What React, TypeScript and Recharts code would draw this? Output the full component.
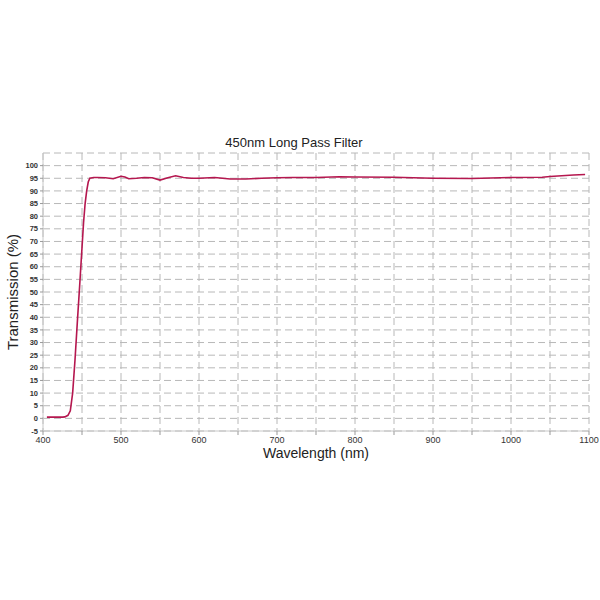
import { LineChart, Line, XAxis, YAxis, CartesianGrid } from 'recharts';

const wavelengths = [
  405, 410, 415, 420, 425, 428, 432, 435, 438, 441, 444, 447, 450, 452, 454, 456, 458, 460,
  465, 470, 480, 490, 500, 505, 510, 520, 530, 540, 550, 560, 570, 580, 590, 600, 620, 640,
  660, 680, 700, 720, 750, 780, 800, 850, 900, 950, 1000, 1040, 1050, 1060, 1070, 1080, 1095,
];
const transmission = [
  0.5, 0.5, 0.5, 0.5, 0.5, 0.6, 1.2, 3, 10, 23, 38, 52.5, 67.5, 77.5, 85, 90, 93.5, 95,
  95.3, 95.3, 95.2, 94.8, 95.8, 95.5, 94.8, 95.0, 95.3, 95.2, 94.3, 95.2, 96.0, 95.3, 95.0, 95.0, 95.3, 94.7,
  94.7, 95.0, 95.2, 95.3, 95.3, 95.6, 95.5, 95.4, 95.0, 94.9, 95.3, 95.4, 95.7, 95.9, 96.1, 96.3, 96.5,
];
const xTicks = [400, 450, 500, 550, 600, 650, 700, 750, 800, 850, 900, 950, 1000, 1050, 1100];
const yTicks = [-5, 0, 5, 10, 15, 20, 25, 30, 35, 40, 45, 50, 55, 60, 65, 70, 75, 80, 85, 90, 95, 100];

const data = wavelengths.map((w, i) => ({ w, t: transmission[i] }));

const font = 'Arial, "Liberation Sans", sans-serif';

export default function App() {
  return (
    <div style={{ position: 'absolute', left: 0, top: 0, width: 600, height: 600, background: '#fff', fontFamily: font }}>
      <div style={{ position: 'absolute', left: 0, top: 135, width: 588, textAlign: 'center', fontSize: 13, lineHeight: '15px', color: '#222' }}>
        450nm Long Pass Filter
      </div>
      <div
        style={{
          position: 'absolute',
          left: 12,
          top: 292,
          transform: 'translate(-50%, -50%) rotate(-90deg)',
          whiteSpace: 'nowrap',
          fontSize: 15,
          lineHeight: '17px',
          color: '#222',
        }}
      >
        Transmission (%)
      </div>
      <div style={{ position: 'absolute', left: 43, top: 446, width: 546, textAlign: 'center', fontSize: 14, lineHeight: '15px', color: '#222' }}>
        Wavelength (nm)
      </div>
      <LineChart width={600} height={600} data={data} margin={{ top: 153, right: 11, bottom: 149, left: 13 }}>
        <CartesianGrid stroke="#b8b8b8" strokeDasharray="7 4" />
        <XAxis
          dataKey="w"
          type="number"
          domain={[400, 1100]}
          ticks={xTicks}
          interval={0}
          height={20}
          stroke="#c8c8c8"
          tickSize={4}
          tickLine={{ stroke: '#999' }}
          tick={{ fontSize: 9, fill: '#333', fontFamily: font }}
          tickFormatter={(v: number) => (v % 100 === 0 ? String(v) : '')}
        />
        <YAxis
          type="number"
          domain={[-5, 105]}
          ticks={yTicks}
          interval={0}
          width={30}
          stroke="#c8c8c8"
          tickSize={3}
          tickLine={{ stroke: '#999' }}
          tick={{ fontSize: 7.5, fill: '#333', fontFamily: font, fontWeight: 'bold' }}
        />
        <Line
          type="linear"
          dataKey="t"
          stroke="#b5174f"
          strokeWidth={1.6}
          dot={false}
          isAnimationActive={false}
        />
      </LineChart>
    </div>
  );
}
